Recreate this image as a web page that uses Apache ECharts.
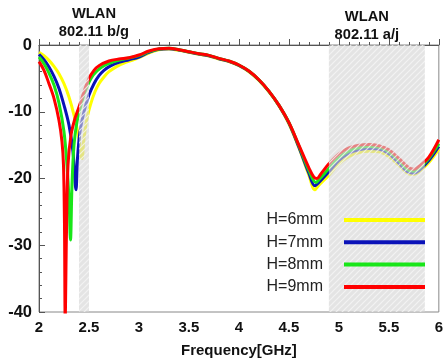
<!DOCTYPE html>
<html>
<head>
<meta charset="utf-8">
<script src="https://cdn.jsdelivr.net/npm/echarts@6/dist/echarts.min.js"></script>
<style>
  html, body { margin: 0; padding: 0; background: #fff; }
  #chart { width: 446px; height: 363px; }
</style>
</head>
<body>
<div id="chart"></div>
<script>
// H=6mm (yellow)
var freqH6 = [2.00, 2.05, 2.10, 2.15, 2.20, 2.25, 2.30, 2.35, 2.40, 2.43, 2.45, 2.48, 2.52, 2.56, 2.60, 2.65, 2.70, 2.78, 2.85, 2.95,
  3.0, 3.1, 3.2, 3.3, 3.4, 3.5, 3.6, 3.7, 3.8, 3.9, 4.0, 4.1, 4.2, 4.3, 4.4, 4.5, 4.6, 4.7, 4.76, 4.8, 4.9,
  5.0, 5.1, 5.2, 5.3, 5.4, 5.5, 5.6, 5.7, 5.75, 5.8, 5.9, 6.0];
var s11H6 = [-1.1, -1.6, -2.3, -3.2, -4.3, -5.8, -7.8, -10.5, -14.0, -17.0, -14.0, -11.0, -8.7, -7.0, -5.8, -4.8, -4.0, -3.2, -2.7, -2.2,
  -1.9, -1.2, -0.7, -0.6, -0.8, -1.1, -1.4, -1.65, -2.1, -2.5, -3.1, -4.0, -5.3, -7.0, -9.1, -11.8, -15.4, -19.5, -21.7, -21.0, -19.5,
  -17.8, -16.7, -16.1, -15.9, -16.0, -16.7, -18.0, -19.3, -19.4, -19.0, -17.6, -15.6];

// H=7mm (blue)
var freqH7 = [2.00, 2.05, 2.10, 2.15, 2.20, 2.25, 2.30, 2.34, 2.37, 2.385, 2.41, 2.45, 2.50, 2.55, 2.60, 2.65, 2.72, 2.80, 2.90,
  3.0, 3.1, 3.2, 3.3, 3.4, 3.5, 3.6, 3.7, 3.8, 3.9, 4.0, 4.1, 4.2, 4.3, 4.4, 4.5, 4.6, 4.7, 4.76, 4.8, 4.9,
  5.0, 5.1, 5.2, 5.3, 5.4, 5.5, 5.6, 5.7, 5.75, 5.8, 5.9, 6.0];
var s11H7 = [-1.4, -2.2, -3.3, -4.7, -6.5, -9.0, -12.0, -16.0, -21.7, -17.0, -13.0, -10.0, -7.5, -5.8, -4.6, -3.8, -3.1, -2.6, -2.2,
  -1.8, -1.1, -0.65, -0.55, -0.75, -1.05, -1.35, -1.6, -2.05, -2.45, -3.05, -3.95, -5.25, -6.95, -9.05, -11.7, -15.3, -19.2, -21.1, -20.6, -19.0,
  -17.3, -16.2, -15.7, -15.5, -15.6, -16.3, -17.7, -19.1, -19.2, -18.8, -17.3, -15.2];

// H=8mm (green)
var freqH8 = [2.00, 2.05, 2.10, 2.15, 2.20, 2.25, 2.28, 2.30, 2.315, 2.33, 2.35, 2.38, 2.42, 2.46, 2.52, 2.58, 2.65, 2.75, 2.85,
  3.0, 3.1, 3.2, 3.3, 3.4, 3.5, 3.6, 3.7, 3.8, 3.9, 4.0, 4.1, 4.2, 4.3, 4.4, 4.5, 4.6, 4.7, 4.77, 4.8, 4.9,
  5.0, 5.1, 5.2, 5.3, 5.4, 5.5, 5.6, 5.7, 5.75, 5.8, 5.9, 6.0];
var s11H8 = [-1.8, -2.8, -4.2, -6.0, -8.7, -13.0, -18.0, -23.0, -29.2, -21.0, -15.0, -11.5, -9.0, -7.0, -5.0, -3.9, -3.1, -2.5, -2.1,
  -1.6, -1.0, -0.6, -0.5, -0.7, -1.0, -1.3, -1.55, -2.0, -2.4, -3.0, -3.9, -5.2, -6.9, -9.0, -11.6, -15.1, -18.8, -20.6, -20.2, -18.5,
  -16.9, -15.9, -15.4, -15.2, -15.3, -16.0, -17.3, -18.8, -18.9, -18.5, -17.0, -14.8];

// H=9mm (red)
var freqH9 = [2.00, 2.05, 2.10, 2.15, 2.20, 2.23, 2.245, 2.255, 2.262, 2.275, 2.29, 2.32, 2.36, 2.40, 2.45, 2.50, 2.55, 2.60, 2.70, 2.80, 2.90,
  3.0, 3.1, 3.2, 3.3, 3.4, 3.5, 3.6, 3.7, 3.8, 3.9, 4.0, 4.1, 4.2, 4.3, 4.4, 4.5, 4.6, 4.7, 4.75, 4.78, 4.82, 4.9,
  5.0, 5.1, 5.2, 5.3, 5.4, 5.5, 5.6, 5.7, 5.75, 5.8, 5.9, 6.0];
var s11H9 = [-2.5, -3.8, -5.8, -8.0, -11.3, -14.5, -18.0, -27.0, -41.0, -28.0, -18.0, -13.5, -11.0, -9.3, -7.0, -5.0, -3.8, -3.1, -2.4, -2.1, -1.9,
  -1.5, -0.9, -0.55, -0.5, -0.7, -1.0, -1.3, -1.55, -2.0, -2.4, -3.0, -3.9, -5.2, -6.9, -9.0, -11.6, -15.0, -18.4, -19.8, -20.0, -19.3, -17.8,
  -16.3, -15.4, -15.0, -14.9, -15.1, -15.7, -17.0, -18.4, -18.6, -18.2, -16.8, -14.2];

var seriesNames = ['H=6mm', 'H=7mm', 'H=8mm', 'H=9mm'];
var seriesColors = ['#ffff00', '#0a12b8', '#19e619', '#ff0000'];

// WLAN bands
var bandStart = [2.4, 4.9];
var bandEnd = [2.5, 5.86];
var bandTitles = ['WLAN\n802.11 b/g', 'WLAN\n802.11 a/j'];
var bandOffsets = [[10, -3], [-10, 0]];

var xTicks = { min: 2, max: 6, interval: 0.5 };
var yTicks = { min: -40, max: 0, interval: 10 };

function hatch() {
  var c = document.createElement('canvas');
  c.width = 6;
  c.height = 6;
  var g = c.getContext('2d');
  g.fillStyle = 'rgba(212,212,212,0.62)';
  g.fillRect(0, 0, 6, 6);
  g.strokeStyle = 'rgba(246,246,246,0.8)';
  g.lineWidth = 1.2;
  g.beginPath();
  g.moveTo(0, 6); g.lineTo(6, 0);
  g.moveTo(-1, 1); g.lineTo(1, -1);
  g.moveTo(5, 7); g.lineTo(7, 5);
  g.stroke();
  return c;
}

function pairs(xs, ys) {
  return xs.map(function (x, i) { return [x, ys[i]]; });
}

var chart = echarts.init(document.getElementById('chart'), null, { renderer: 'canvas' });

var allFreq = [freqH6, freqH7, freqH8, freqH9];
var allS11 = [s11H6, s11H7, s11H8, s11H9];

var series = seriesNames.map(function (name, i) {
  return {
    name: name,
    type: 'line',
    data: pairs(allFreq[i], allS11[i]),
    showSymbol: false,
    smooth: 0.35,
    clip: true,
    lineStyle: { color: seriesColors[i], width: 3 },
    itemStyle: { color: seriesColors[i] },
    z: 2 + i
  };
});

series[3].markArea = {
  silent: true,
  z: 10,
  itemStyle: { color: { image: hatch(), repeat: 'repeat' } },
  label: {
    show: true,
    position: 'top',
    color: '#111',
    fontFamily: 'Liberation Sans, Arial, sans-serif',
    fontWeight: 'bold',
    fontSize: 14.7,
    lineHeight: 18,
    distance: 1
  },
  data: bandStart.map(function (s, i) {
    return [
      { xAxis: s, name: bandTitles[i], label: { offset: bandOffsets[i] } },
      { xAxis: bandEnd[i] }
    ];
  })
};

chart.setOption({
  animation: false,
  textStyle: { fontFamily: 'Liberation Sans, Arial, sans-serif' },
  grid: {
    left: 39, right: 3, top: 45, bottom: 51,
    show: true, borderColor: '#888', borderWidth: 1
  },
  legend: {
    data: seriesNames,
    z: 20,
    orient: 'vertical',
    align: 'right',
    right: 16,
    top: 207,
    icon: 'rect',
    itemWidth: 81,
    itemHeight: 4,
    itemGap: 6.3,
    textStyle: { fontSize: 16, color: '#222', lineHeight: 16, padding: [0, 16, 0, 0] }
  },
  xAxis: {
    type: 'value',
    min: xTicks.min, max: xTicks.max, interval: xTicks.interval,
    name: 'Frequency[GHz]',
    nameLocation: 'middle',
    nameGap: 31,
    nameTextStyle: { fontSize: 15, fontWeight: 'bold', color: '#111' },
    axisLine: { lineStyle: { color: '#555', width: 1 } },
    axisTick: { inside: true, length: 6, lineStyle: { color: '#555' } },
    minorTick: { show: true, splitNumber: 5, length: 3, lineStyle: { color: '#555' } },
    axisLabel: { fontSize: 15, fontWeight: 'bold', color: '#111', margin: 8 },
    splitLine: { show: false }
  },
  yAxis: {
    type: 'value',
    min: yTicks.min, max: yTicks.max, interval: yTicks.interval,
    axisLine: { show: true, lineStyle: { color: '#555', width: 1 } },
    axisTick: { show: true, inside: true, length: 6, lineStyle: { color: '#555' } },
    minorTick: { show: true, splitNumber: 5, length: 3, lineStyle: { color: '#555' } },
    axisLabel: { fontSize: 16.5, fontWeight: 'bold', color: '#111', margin: 7 },
    splitLine: { show: false }
  },
  series: series
});
</script>
</body>
</html>
